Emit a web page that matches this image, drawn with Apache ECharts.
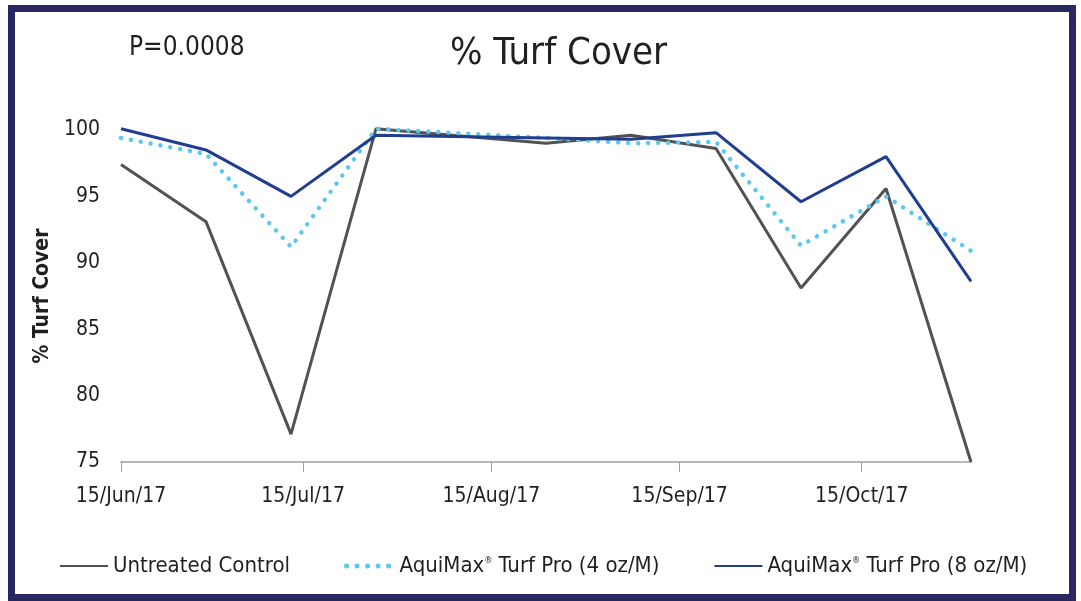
<!DOCTYPE html>
<html>
<head>
<meta charset="utf-8">
<script src="https://cdn.jsdelivr.net/npm/echarts@6/dist/echarts.min.js"></script>
<style>
  html, body { margin: 0; padding: 0; background: #fff; }
  #turfChart { width: 1081px; height: 601px; }
</style>
</head>
<body>
<div id="turfChart"></div>
<script>
// sampling dates (every 2 weeks, one gap in August)
var dates = ['2017-06-15', '2017-06-29', '2017-07-13', '2017-07-27', '2017-08-24',
             '2017-09-07', '2017-09-21', '2017-10-05', '2017-10-19', '2017-11-02'];
var control = [97.4, 93.1, 77.1, 100.1, 99.0, 99.6, 98.6, 88.1, 95.6, 75.0];
var pro4oz  = [99.4, 98.2, 91.2, 100.1, 99.4, 99.0, 99.1, 91.3, 95.0, 90.9];
var pro8oz  = [100.1, 98.5, 95.0, 99.6, 99.4, 99.3, 99.8, 94.6, 98.0, 88.6];
var tickDates = ['2017-06-15', '2017-07-15', '2017-08-15', '2017-09-15', '2017-10-15'];
var seriesNames = ['Untreated Control', 'AquiMax® Turf Pro (4 oz/M)', 'AquiMax® Turf Pro (8 oz/M)'];

var FONT = '"Liberation Sans Narrow", "DejaVu Sans Condensed", "Liberation Sans", sans-serif';
var MONTHS = ['Jan','Feb','Mar','Apr','May','Jun','Jul','Aug','Sep','Oct','Nov','Dec'];
var DAY = 86400000;

// x axis runs in days since the first date
function dayOf(s) {
  var p = s.split('-');
  return Math.round((Date.UTC(+p[0], +p[1] - 1, +p[2]) - Date.UTC(2017, 5, 15)) / DAY);
}
function pairs(vals) {
  var out = [];
  for (var i = 0; i < dates.length; i++) out.push([dayOf(dates[i]), vals[i]]);
  return out;
}
var tickDays = tickDates.map(dayOf);

var dotted = { color: '#5bc8f0', width: 5, type: [0.01, 10.5], cap: 'round' };

var myChart = echarts.init(document.getElementById('turfChart'));
var option = {
  backgroundColor: '#fff',
  animation: false,
  textStyle: { fontFamily: FONT },
  title: [{
    text: 'P=0.0008', left: 124, top: 30,
    textStyle: { fontFamily: FONT, fontSize: 26, fontWeight: 'normal', color: '#231f20' }
  }, {
    text: '% Turf Cover', left: 445, top: 30,
    textStyle: { fontFamily: FONT, fontSize: 38, fontWeight: 'normal', color: '#231f20' }
  }],
  graphic: [{
    type: 'rect',
    shape: { x: 11.5, y: 8.5, width: 1061, height: 589 },
    style: { fill: 'none', stroke: '#29275f', lineWidth: 7 },
    silent: true
  }],
  grid: { left: 121, right: 110, top: 130, bottom: 139 },
  legend: {
    left: 54, top: 550,
    itemWidth: 48, itemHeight: 14, itemGap: 54,
    itemStyle: { opacity: 0 },
    data: [
      { name: seriesNames[0] },
      { name: seriesNames[1], lineStyle: dotted },
      { name: seriesNames[2] }
    ],
    formatter: function (name) {
      var p = name.split('®');
      if (p.length < 2) return '{t|' + name + '}';
      return '{t|' + p[0] + '}{s|®}{t|' + p[1] + '}';
    },
    textStyle: {
      fontFamily: FONT, color: '#231f20',
      rich: {
        t: { fontFamily: FONT, fontSize: 22, color: '#231f20' },
        s: { fontFamily: FONT, fontSize: 9, color: '#231f20', padding: [0, 0, 10, 0] }
      }
    }
  },
  xAxis: {
    type: 'value',
    min: 0,
    max: dayOf(dates[dates.length - 1]),
    axisLine: { lineStyle: { color: '#a0a0a0', width: 1.5 } },
    axisTick: { show: true, inside: false, length: 10, customValues: tickDays,
                lineStyle: { color: '#a0a0a0', width: 1 } },
    splitLine: { show: false },
    axisLabel: {
      customValues: tickDays,
      margin: 24,
      fontFamily: FONT, fontSize: 21, color: '#231f20',
      formatter: function (v) {
        var d = new Date(Date.UTC(2017, 5, 15) + v * DAY);
        return d.getUTCDate() + '/' + MONTHS[d.getUTCMonth()] + '/' + String(d.getUTCFullYear()).slice(2);
      }
    }
  },
  yAxis: {
    type: 'value',
    min: 75, max: 100, interval: 5,
    name: '% Turf Cover',
    nameLocation: 'middle',
    nameGap: 52,
    nameTextStyle: { fontFamily: FONT, fontSize: 21, fontWeight: 'bold', color: '#231f20' },
    axisLine: { show: false },
    axisTick: { show: false },
    splitLine: { show: false },
    axisLabel: { margin: 21, fontFamily: FONT, fontSize: 21, color: '#231f20' }
  },
  series: [{
    name: seriesNames[0], type: 'line', data: pairs(control),
    symbol: 'none', clip: false, z: 2,
    lineStyle: { color: '#525252', width: 3 }, itemStyle: { color: '#525252' }
  }, {
    name: seriesNames[1], type: 'line', data: pairs(pro4oz),
    symbol: 'none', clip: false, z: 3,
    lineStyle: { color: '#5bc8f0', width: 4.5, type: [0.01, 10], cap: 'round' },
    itemStyle: { color: '#5bc8f0' }
  }, {
    name: seriesNames[2], type: 'line', data: pairs(pro8oz),
    symbol: 'none', clip: false, z: 4,
    lineStyle: { color: '#213d8f', width: 3 }, itemStyle: { color: '#213d8f' }
  }]
};
myChart.setOption(option);
</script>
</body>
</html>
